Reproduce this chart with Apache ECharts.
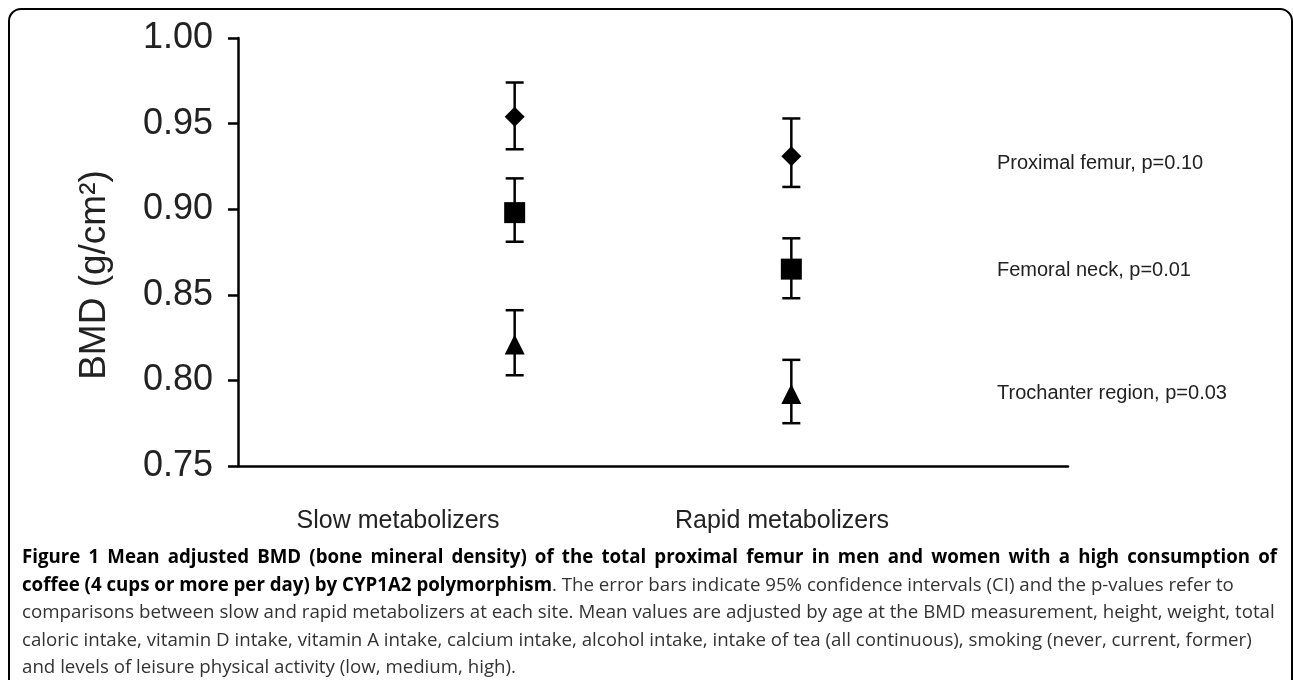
<!DOCTYPE html>
<html>
<head>
<meta charset="utf-8">
<script src="https://cdn.jsdelivr.net/npm/echarts@6/dist/echarts.min.js"></script>
<style>
  html, body { margin: 0; padding: 0; background: #fff; }
  #chart { width: 1293px; height: 680px; }
</style>
</head>
<body>
<div id="chart"></div>
<script>
// groups on the x axis (x = 1 and x = 2)
var groups = ["Slow metabolizers", "Rapid metabolizers"];
var groupX = [1, 2];

// sites and p-values
var sites = ["Proximal femur", "Femoral neck", "Trochanter region"];
var pValues = ["0.10", "0.01", "0.03"];

// mean BMD and 95% CI, [slow, rapid]
var femurMean = [0.954, 0.931];
var femurLow = [0.935, 0.913];
var femurHigh = [0.974, 0.953];

var neckMean = [0.898, 0.865];
var neckLow = [0.881, 0.848];
var neckHigh = [0.918, 0.883];

var trochMean = [0.821, 0.792];
var trochLow = [0.803, 0.775];
var trochHigh = [0.841, 0.812];

var yTicks = [0.75, 0.80, 0.85, 0.90, 0.95, 1.00];

var captionTitle = "Figure 1 Mean adjusted BMD (bone mineral density) of the total proximal femur in men and women with a high consumption of";
var captionLines = [
  [["b", "coffee (4 cups or more per day) by CYP1A2 polymorphism"], ["r", ". The error bars indicate 95% confidence intervals (CI) and the p-values refer to"]],
  [["r", "comparisons between slow and rapid metabolizers at each site. Mean values are adjusted by age at the BMD measurement, height, weight, total"]],
  [["r", "caloric intake, vitamin D intake, vitamin A intake, calcium intake, alcohol intake, intake of tea (all continuous), smoking (never, current, former)"]],
  [["r", "and levels of leisure physical activity (low, medium, high)."]]
];

var chart = echarts.init(document.getElementById("chart"));

function pts(means) {
  return groupX.map(function (x, i) { return [x, means[i]]; });
}
function bars(low, high) {
  return groupX.map(function (x, i) { return [x, low[i], high[i]]; });
}

function renderErr(params, api) {
  var x = api.value(0);
  var lo = api.coord([x, api.value(1)]);
  var hi = api.coord([x, api.value(2)]);
  var half = 9;
  var st = { stroke: "#000", lineWidth: 2.5 };
  return {
    type: "group",
    children: [
      { type: "line", shape: { x1: lo[0], y1: lo[1], x2: hi[0], y2: hi[1] }, style: st },
      { type: "line", shape: { x1: hi[0] - half, y1: hi[1], x2: hi[0] + half, y2: hi[1] }, style: st },
      { type: "line", shape: { x1: lo[0] - half, y1: lo[1], x2: lo[0] + half, y2: lo[1] }, style: st }
    ]
  };
}

var siteY = [163, 270, 393];
var groupLabelX = [398, 782];
var boldFont = "bold 18.7px 'Open Sans', sans-serif";
var regFont = "18.7px 'Open Sans', sans-serif";

var graphics = [
  {
    type: "rect",
    shape: { x: 9, y: 9, width: 1283, height: 720, r: 12 },
    style: { fill: null, stroke: "#000", lineWidth: 2 },
    z: -1
  },
  {
    // y axis title
    type: "text",
    x: 95,
    y: 275,
    rotation: Math.PI / 2,
    style: {
      text: "BMD (g/cm²)",
      font: "37px 'Liberation Sans', Arial, sans-serif",
      fill: "#222",
      align: "center",
      verticalAlign: "middle"
    }
  }
];
sites.forEach(function (s, i) {
  graphics.push({
    type: "text",
    x: 997,
    y: siteY[i],
    style: {
      text: s + ", p=" + pValues[i],
      font: "20px 'Liberation Sans', Arial, sans-serif",
      fill: "#222",
      verticalAlign: "middle"
    }
  });
});
groups.forEach(function (g, i) {
  graphics.push({
    type: "text",
    x: groupLabelX[i],
    y: 521,
    style: {
      text: g,
      font: "25px 'Liberation Sans', Arial, sans-serif",
      fill: "#222",
      align: "center",
      verticalAlign: "middle"
    }
  });
});

// first caption line is justified to the full width
var ctx = document.createElement("canvas").getContext("2d");
ctx.font = boldFont;
var words = captionTitle.split(" ");
var wordsW = 0;
words.forEach(function (w) { wordsW += ctx.measureText(w).width; });
var gap = (1277 - 22 - wordsW) / (words.length - 1);
var cx = 22;
words.forEach(function (w) {
  graphics.push({
    type: "text",
    x: cx,
    y: 558,
    style: { text: w, font: boldFont, fill: "#000", verticalAlign: "middle" }
  });
  cx += ctx.measureText(w).width + gap;
});

captionLines.forEach(function (line, i) {
  var txt = line.map(function (p) { return "{" + p[0] + "|" + p[1] + "}"; }).join("");
  graphics.push({
    type: "text",
    x: 22,
    y: 585.5 + i * 27.5,
    style: {
      text: txt,
      verticalAlign: "middle",
      rich: {
        b: { font: boldFont, fill: "#000" },
        r: { font: regFont, fill: "#333" }
      }
    }
  });
});

var markerStyle = { color: "#000", opacity: 1 };

chart.setOption({
  animation: false,
  backgroundColor: "#fff",
  grid: { left: 238, right: 225, top: 38, bottom: 214, containLabel: false, outerBoundsMode: "none" },
  xAxis: {
    type: "value",
    min: 0,
    max: 3,
    axisLine: { show: true, onZero: false, lineStyle: { color: "#000", width: 2.5 } },
    axisTick: { show: false },
    axisLabel: { show: false },
    splitLine: { show: false }
  },
  yAxis: {
    type: "value",
    min: yTicks[0],
    max: yTicks[yTicks.length - 1],
    interval: 0.05,
    axisLine: { show: true, lineStyle: { color: "#000", width: 2.5 } },
    axisTick: { show: true, length: 10, lineStyle: { color: "#000", width: 2.5 } },
    axisLabel: {
      margin: 25,
      fontSize: 36,
      fontFamily: "'Liberation Sans', Arial, sans-serif",
      color: "#222",
      formatter: function (v) { return v.toFixed(2); }
    },
    splitLine: { show: false }
  },
  graphic: graphics,
  series: [
    { type: "custom", renderItem: renderErr, data: bars(femurLow, femurHigh), z: 2 },
    { type: "custom", renderItem: renderErr, data: bars(neckLow, neckHigh), z: 2 },
    { type: "custom", renderItem: renderErr, data: bars(trochLow, trochHigh), z: 2 },
    { name: sites[0], type: "scatter", symbol: "diamond", symbolSize: 20, itemStyle: markerStyle, data: pts(femurMean), z: 3 },
    { name: sites[1], type: "scatter", symbol: "rect", symbolSize: 21, itemStyle: markerStyle, data: pts(neckMean), z: 3 },
    { name: sites[2], type: "scatter", symbol: "triangle", symbolSize: 20, itemStyle: markerStyle, data: pts(trochMean), z: 3 }
  ]
});
</script>
</body>
</html>
